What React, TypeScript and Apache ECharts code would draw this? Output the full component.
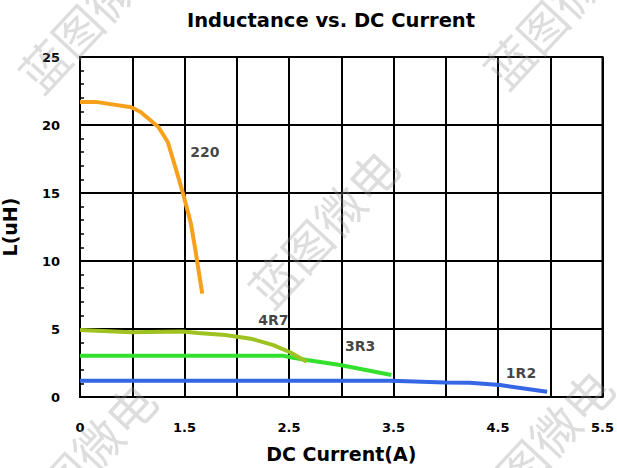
import React, { useEffect, useRef } from "react";
import * as echarts from "echarts";

// x positions on the plot (grid lines every 0.5), y in uH
const xTickLabels: Record<string, string> = { "0": "0", "1": "1.5", "2": "2.5", "3": "3.5", "4": "4.5", "5": "5.5" };

const s220: [number, number][] = [
  [0, 21.7], [0.15, 21.7], [0.49, 21.3], [0.58, 20.96], [0.75, 19.85], [0.84, 18.75],
  [0.92, 16.7], [0.99, 14.85], [1.06, 12.8], [1.1, 11.0], [1.17, 7.6],
];
const s4R7: [number, number][] = [
  [0, 4.93], [0.49, 4.76], [0.98, 4.82], [1.13, 4.71], [1.39, 4.56], [1.65, 4.26],
  [1.85, 3.82], [2.01, 3.29], [2.17, 2.6],
];
const s3R3: [number, number][] = [
  [0, 3.04], [1.94, 3.04], [2.04, 2.89], [2.17, 2.72], [2.49, 2.35], [2.98, 1.62],
];
const s1R2: [number, number][] = [
  [0, 1.2], [2.98, 1.2], [3.49, 1.07], [3.73, 1.05], [4.02, 0.88], [4.47, 0.39],
];
const curveLabels: { name: string; value: [number, number] }[] = [
  { name: "220", value: [1.195, 18.0] },
  { name: "4R7", value: [1.85, 5.66] },
  { name: "3R3", value: [2.68, 3.75] },
  { name: "1R2", value: [4.22, 1.76] },
];

const FONT = '"DejaVu Sans", sans-serif';

export default function App() {
  const ref = useRef<HTMLDivElement>(null);
  useEffect(() => {
    if (!ref.current) return;
    const chart = echarts.init(ref.current, null, { renderer: "svg" });
    const wm = (x: number, y: number) => ({
      type: "text",
      x,
      y,
      rotation: (47 * Math.PI) / 180,
      z: 100,
      silent: true,
      style: {
        text: "蓝图微电",
        font: '48px "Noto Sans CJK SC"',
        fill: "rgba(150,150,150,0.32)",
        align: "center",
        verticalAlign: "middle",
      },
    });
    const line = (name: string, data: [number, number][], color: string) => ({
      type: "line",
      name,
      data,
      showSymbol: false,
      symbol: "none",
      smooth: false,
      lineStyle: { color, width: 4 },
      z: 3,
    });
    chart.setOption({
      animation: false,
      backgroundColor: "#fff",
      grid: {
        left: 80,
        right: 14.5,
        top: 57,
        bottom: 71,
        outerBoundsMode: "none",
        containLabel: false,
        show: true,
        borderColor: "#000",
        borderWidth: 2,
      },
      xAxis: {
        type: "value",
        min: 0,
        max: 5,
        interval: 0.5,
        axisLine: { show: true, lineStyle: { color: "#000", width: 2 } },
        axisTick: { show: false },
        splitLine: { show: true, lineStyle: { color: "#000", width: 2 } },
        axisLabel: {
          margin: 24,
          fontSize: 13,
          fontWeight: "bold",
          fontFamily: FONT,
          color: "#000",
          showMinLabel: true,
          showMaxLabel: true,
          formatter: (v: number) => xTickLabels[String(v)] ?? "",
        },
        name: "DC Current(A)",
        nameLocation: "middle",
        nameGap: 47,
        nameTextStyle: { fontSize: 19, fontWeight: "bold", fontFamily: FONT, color: "#000" },
      },
      yAxis: {
        type: "value",
        min: 0,
        max: 25,
        interval: 5,
        axisLine: { show: true, lineStyle: { color: "#000", width: 2 } },
        axisTick: { show: false, inside: true },
        minorTick: { show: true, splitNumber: 5, length: 4, lineStyle: { color: "#000", width: 1.5 } },
        splitLine: { show: true, lineStyle: { color: "#000", width: 2 } },
        axisLabel: {
          margin: 20,
          fontSize: 13,
          fontWeight: "bold",
          fontFamily: FONT,
          color: "#000",
        },
        name: "L(uH)",
        nameLocation: "middle",
        nameRotate: 90,
        nameGap: 61,
        nameTextStyle: { fontSize: 19, fontWeight: "bold", fontFamily: FONT, color: "#000" },
      },
      series: [
        line("1R2", s1R2, "#3466E6"),
        line("3R3", s3R3, "#33E02E"),
        line("4R7", s4R7, "#9EC21F"),
        line("220", s220, "#F7A01C"),
        {
          type: "scatter",
          data: curveLabels,
          symbolSize: 0,
          z: 4,
          label: {
            show: true,
            position: "inside",
            formatter: (p: any) => p.name,
            fontSize: 14,
            fontWeight: "bold",
            fontFamily: FONT,
            color: "#111",
          },
        },
      ],
      graphic: [
        {
          type: "text",
          x: 331,
          y: 20.5,
          style: {
            text: "Inductance vs. DC Current",
            font: `bold 19.5px ${FONT}`,
            fill: "#000",
            align: "center",
            verticalAlign: "middle",
          },
        },
        wm(92, 12),
        wm(557, 8),
        wm(322, 227),
        wm(80, 460),
        wm(537, 447),
      ],
    });
    return () => chart.dispose();
  }, []);
  return (
    <div
      ref={ref}
      style={{ position: "fixed", left: 0, top: 0, width: 617, height: 468 }}
    />
  );
}
